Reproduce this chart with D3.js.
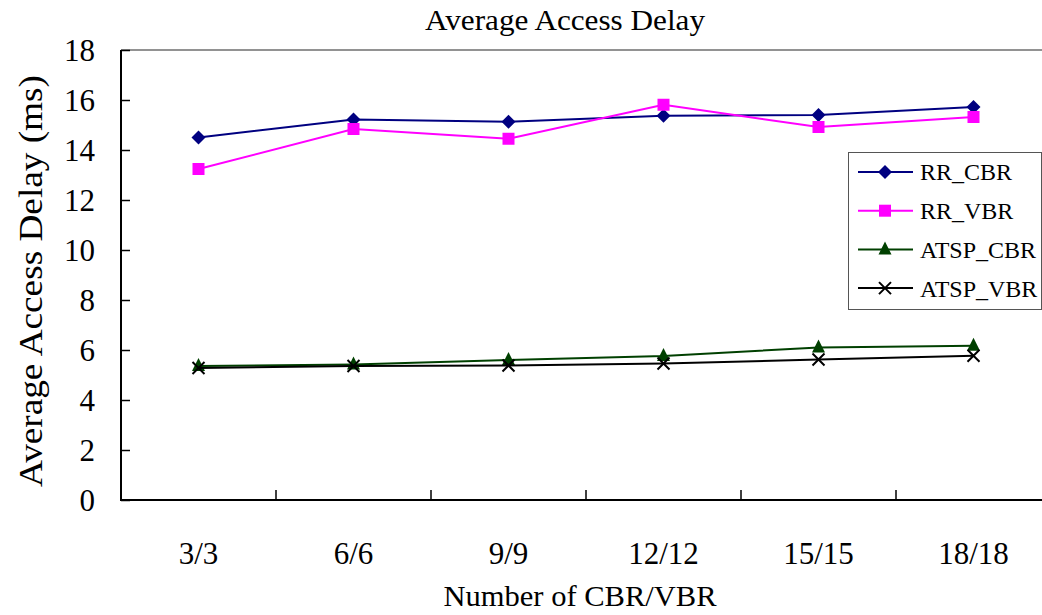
<!DOCTYPE html>
<html><head><meta charset="utf-8">
<script src="https://cdn.jsdelivr.net/npm/d3@7"></script>
<style>html,body{margin:0;padding:0;background:#fff;overflow:hidden}svg{display:block}</style>
</head><body><svg id="c" width="1042" height="615"></svg>
<script>
const categories = ["3/3","6/6","9/9","12/12","15/15","18/18"];
const rrCBR   = [14.5, 15.22, 15.13, 15.37, 15.4, 15.72];
const rrVBR   = [13.24, 14.84, 14.45, 15.81, 14.92, 15.32];
const atspCBR = [5.36, 5.42, 5.6, 5.76, 6.1, 6.17];
const atspVBR = [5.28, 5.36, 5.38, 5.46, 5.62, 5.77];
const yTicks  = [0,2,4,6,8,10,12,14,16,18];
const seriesNames = ["RR_CBR","RR_VBR","ATSP_CBR","ATSP_VBR"];

const series = [
  {name: seriesNames[0], values: rrCBR,   color: "#000080", marker: "diamond"},
  {name: seriesNames[1], values: rrVBR,   color: "#FF00FF", marker: "square"},
  {name: seriesNames[2], values: atspCBR, color: "#004000", marker: "triangle"},
  {name: seriesNames[3], values: atspVBR, color: "#000000", marker: "x"}
];

const FF = "'Liberation Serif'";
const svg = d3.select("#c");
const L = 121, R = 1051, T = 50, B = 500;
const x = d3.scaleBand().domain(categories).range([L, R]);
const y = d3.scaleLinear().domain([0, 18]).range([B, T]);

svg.append("line").attr("x1", L).attr("x2", R).attr("y1", T).attr("y2", T)
  .attr("stroke", "#6e6e6e").attr("stroke-width", 1.5);

const yAxis = svg.append("g").attr("transform", `translate(${L},0)`)
  .call(d3.axisRight(y).tickValues(yTicks).tickSize(9).tickFormat(""));
yAxis.select(".domain").remove();
yAxis.selectAll(".tick line").attr("stroke", "#000").attr("stroke-width", 1.5);
svg.append("line").attr("x1", L).attr("x2", L).attr("y1", T).attr("y2", B + 1)
  .attr("stroke", "#000").attr("stroke-width", 2);
svg.selectAll(".ylab").data(yTicks).enter().append("text")
  .attr("font-family", FF).attr("fill", "#000")
  .attr("x", 95).attr("y", d => y(d)).attr("dy", "0.35em")
  .attr("text-anchor", "end").attr("font-size", 31).text(d => d);

const boundaries = categories.slice(1);
const xAxisG = svg.append("g").attr("transform", `translate(0,${B})`);
xAxisG.selectAll("line").data(boundaries).enter().append("line")
  .attr("x1", d => x(d)).attr("x2", d => x(d)).attr("y1", 0).attr("y2", -10)
  .attr("stroke", "#000").attr("stroke-width", 1.5);
svg.append("line").attr("x1", L - 1).attr("x2", R).attr("y1", B).attr("y2", B)
  .attr("stroke", "#000").attr("stroke-width", 2);
svg.selectAll(".xlab").data(categories).enter().append("text")
  .attr("font-family", FF).attr("fill", "#000")
  .attr("x", d => x(d) + x.bandwidth() / 2).attr("y", 564)
  .attr("text-anchor", "middle").attr("font-size", 31).text(d => d);

svg.append("text").attr("font-family", FF).attr("x", 565).attr("y", 30).attr("text-anchor", "middle")
  .attr("font-size", 30).attr("textLength", 280).attr("lengthAdjust", "spacingAndGlyphs")
  .text("Average Access Delay");
svg.append("text").attr("font-family", FF).attr("x", 580).attr("y", 606).attr("text-anchor", "middle")
  .attr("font-size", 30).attr("textLength", 273).attr("lengthAdjust", "spacingAndGlyphs")
  .text("Number of CBR/VBR");
svg.append("text").attr("font-family", FF).attr("transform", "translate(42,281) rotate(-90)")
  .attr("text-anchor", "middle").attr("font-size", 33)
  .attr("textLength", 412).attr("lengthAdjust", "spacingAndGlyphs")
  .text("Average Access Delay (ms)");

function drawMarker(g, type, color) {
  if (type === "diamond") {
    g.append("path").attr("d", "M0,-7L7,0L0,7L-7,0Z").attr("fill", color);
  } else if (type === "square") {
    g.append("rect").attr("x", -6).attr("y", -6).attr("width", 12).attr("height", 12).attr("fill", color);
  } else if (type === "triangle") {
    g.append("path").attr("d", "M0,-8L6.5,5L-6.5,5Z").attr("fill", color);
  } else {
    g.append("path").attr("d", "M-6,-6L6,6M-6,6L6,-6").attr("stroke", color).attr("stroke-width", 2).attr("fill", "none");
  }
}

const line = d3.line().x((d, i) => x(categories[i]) + x.bandwidth() / 2).y(d => y(d));
series.forEach(s => {
  svg.append("path").attr("d", line(s.values)).attr("fill", "none")
    .attr("stroke", s.color).attr("stroke-width", 2);
  s.values.forEach((v, i) => {
    const g = svg.append("g").attr("transform", `translate(${x(categories[i]) + x.bandwidth() / 2},${y(v)})`);
    drawMarker(g, s.marker, s.color);
  });
});

const lg = svg.append("g");
lg.append("rect").attr("x", 848.5).attr("y", 152.5).attr("width", 193).attr("height", 157)
  .attr("fill", "#fff").attr("stroke", "#555").attr("stroke-width", 1);
series.forEach((s, i) => {
  const yy = 172 + i * 38.7;
  lg.append("line").attr("x1", 858).attr("x2", 913).attr("y1", yy).attr("y2", yy)
    .attr("stroke", s.color).attr("stroke-width", 2);
  const g = lg.append("g").attr("transform", `translate(885,${yy})`);
  drawMarker(g, s.marker, s.color);
  lg.append("text").attr("font-family", FF).attr("x", 920).attr("y", yy).attr("dy", "0.35em")
    .attr("font-size", 24).text(s.name);
});
</script></body></html>
